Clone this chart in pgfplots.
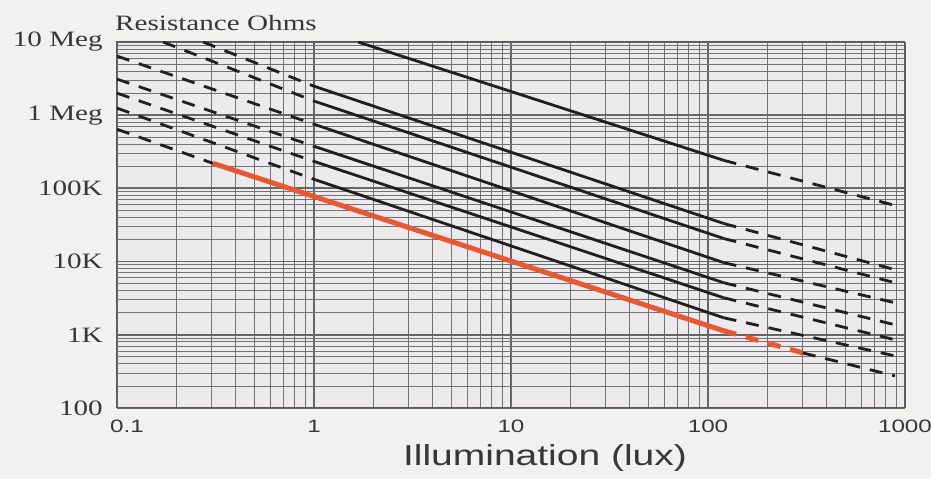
\documentclass[border=0pt]{standalone}
\usepackage{fontspec}
\setmainfont{Liberation Serif}
\newfontfamily\sansf{Liberation Sans}
\usepackage{graphicx}
\usepackage{pgfplots}
\pgfplotsset{compat=1.18}
\definecolor{bgout}{RGB}{241,241,240}
\definecolor{bgin}{RGB}{236,234,236}
\definecolor{redl}{RGB}{232,88,52}
\definecolor{txt}{RGB}{55,55,55}
\newcommand{\yl}[1]{\scalebox{1.33}[1]{\fontsize{22}{22}\selectfont #1}}
\newcommand{\xl}[1]{\scalebox{1.35}[1]{\sansf\fontsize{18}{18}\selectfont #1}}
\tikzset{
  bl/.style={black!88, line width=2.8bp},
  dsh/.style={dash pattern=on 13bp off 10bp},
  rd/.style={redl, line width=5bp},
}
\begin{document}
\begin{tikzpicture}
\fill[bgout] (-117bp,-71bp) rectangle (814bp,408bp);
\path[use as bounding box] (-117bp,-71bp) rectangle (814bp,408bp);
\begin{axis}[
  name=ax,
  at={(0,0)}, anchor=south west,
  width=788bp, height=366bp, scale only axis,
  xmode=log, ymode=log,
  xmin=0.1, xmax=1000, ymin=100, ymax=1e7,
  xtick={0.1,1,10,100,1000},
  xticklabels={\hspace{20bp}\xl{0.1},\xl{1},\xl{10},\xl{100},\xl{1000}\hspace{24bp}},
  minor xtick={0.2,0.3,0.4,0.5,0.6,0.7,0.8,0.9,2,3,4,5,6,7,8,9,20,30,40,50,60,70,80,90,200,300,400,500,600,700,800,900},
  ytick={100,1000,10000,100000,1000000,10000000},
  yticklabels={\yl{100},\yl{1K},\yl{10K},\yl{100K},\yl{1 Meg},\yl{10 Meg}},
  minor ytick={200,300,400,500,600,700,800,900,2000,3000,4000,5000,6000,7000,8000,9000,20000,30000,40000,50000,60000,70000,80000,90000,200000,300000,400000,500000,600000,700000,800000,900000,2000000,3000000,4000000,5000000,6000000,7000000,8000000,9000000},
  grid=both,
  major grid style={black!60, line width=1.8bp},
  minor grid style={black!55, line width=0.9bp},
  tick style={draw=none},
  axis line style={black!65, line width=1bp},
  axis background/.style={fill=bgin},
  yticklabel style={anchor=east, inner sep=0pt, xshift=-14bp, text=txt},
  xticklabel style={anchor=north, inner sep=0pt, yshift=-12bp, text=txt},
  xlabel={\scalebox{1.35}[1]{\sansf\fontsize{29}{29}\selectfont Illumination (lux)}},
  xlabel style={at={(axis description cs:0.5,0)}, anchor=center, inner sep=0pt, xshift=34bp, yshift=-50bp, text=txt},
  no marks,
]
% Line A
\addplot[bl] coordinates {(1.673,1e7) (120,2.42e5)};
\addplot[bl,dsh] coordinates {(120,2.42e5) (890,5.85e4)};
% Line 2
\addplot[bl,dsh] coordinates {(0.2735,1e7) (1,2.49e6)};
\addplot[bl] coordinates {(1,2.49e6) (120,3.32e4)};
\addplot[bl,dsh] coordinates {(120,3.32e4) (890,7.76e3)};
% Line 3
\addplot[bl,dsh] coordinates {(0.1713,1e7) (1,1.56e6)};
\addplot[bl] coordinates {(1,1.56e6) (120,2.07e4)};
\addplot[bl,dsh] coordinates {(120,2.07e4) (890,5.15e3)};
% Line 4
\addplot[bl,dsh] coordinates {(0.1,6.42e6) (1,7.53e5)};
\addplot[bl] coordinates {(1,7.53e5) (120,9.69e3)};
\addplot[bl,dsh] coordinates {(120,9.69e3) (890,2.74e3)};
% Line 5
\addplot[bl,dsh] coordinates {(0.1,3.11e6) (1,3.76e5)};
\addplot[bl] coordinates {(1,3.76e5) (120,5.15e3)};
\addplot[bl,dsh] coordinates {(120,5.15e3) (890,1.37e3)};
% Line 6
\addplot[bl,dsh] coordinates {(0.1,2.0e6) (1,2.34e5)};
\addplot[bl] coordinates {(1,2.34e5) (120,3.21e3)};
\addplot[bl,dsh] coordinates {(120,3.21e3) (890,855)};
% Line 7
\addplot[bl,dsh] coordinates {(0.1,1.25e6) (1,1.33e5)};
\addplot[bl] coordinates {(1,1.33e5) (120,1.71e3)};
\addplot[bl,dsh] coordinates {(120,1.71e3) (890,515)};
% Red line
\addplot[bl,dsh] coordinates {(0.1,6.43e5) (0.307,2.2e5)};
\addplot[rd] coordinates {(0.307,2.2e5) (1,7.76e4) (120,1135)};
\addplot[rd,dsh] coordinates {(120,1135) (303,566)};
\addplot[bl,dsh] coordinates {(303,566) (890,274)};
\end{axis}
\node[anchor=base west, inner sep=0pt, text=txt] at ([xshift=-2bp,yshift=11bp]ax.north west) {\yl{Resistance Ohms}};
\end{tikzpicture}
\end{document}
